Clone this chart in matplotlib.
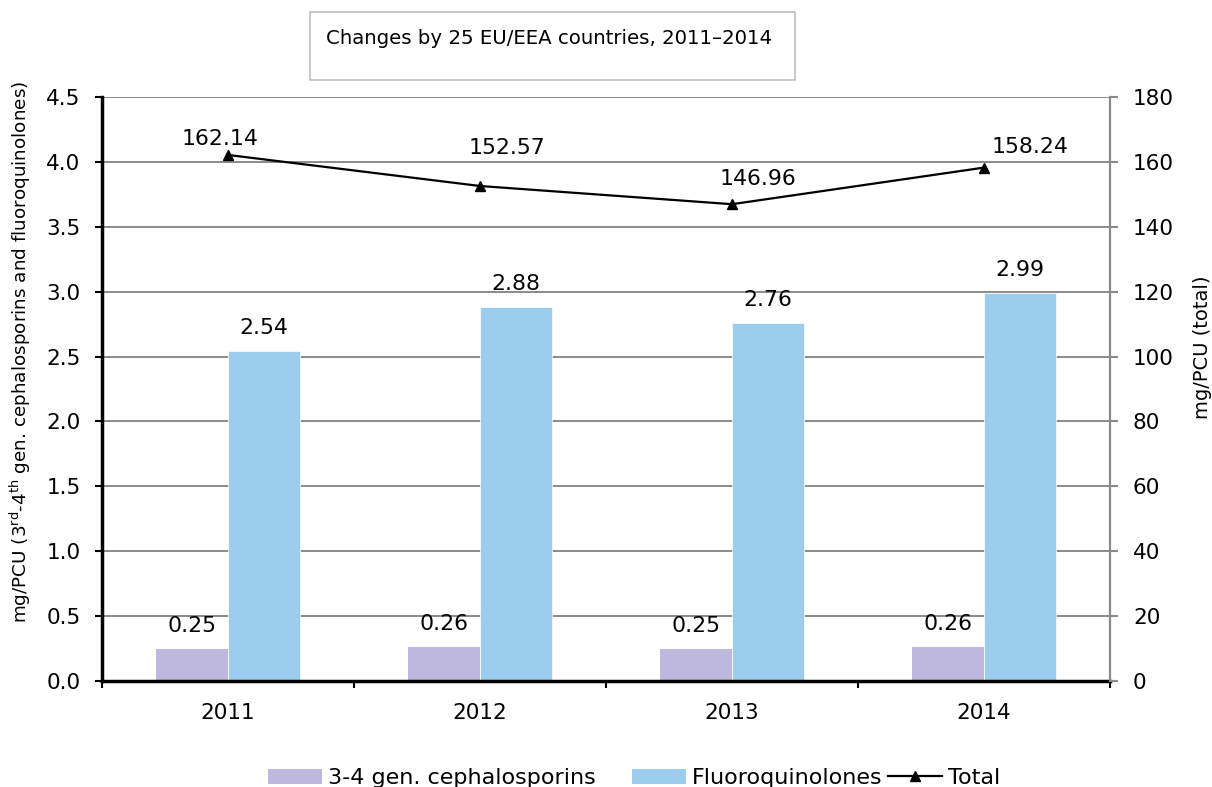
import numpy as np
import matplotlib
matplotlib.use("Agg")
import matplotlib.pyplot as plt
from matplotlib.patches import Rectangle, Patch
from matplotlib.lines import Line2D

# data
years = ['2011', '2012', '2013', '2014']
cephalosporins = [0.25, 0.26, 0.25, 0.26]
fluoroquinolones = [2.54, 2.88, 2.76, 2.99]
total = [162.14, 152.57, 146.96, 158.24]

# label offsets for the total line (pixels, as placed in the original)
total_label_offsets = [(-8, -16), (27, -38), (26, -25), (46, -21)]

purple = '#BFB8DE'
blue = '#9DCDEE'
grid_grey = '#8a8a8a'

W, H = 1212, 787
fig = plt.figure(figsize=(W / 100, H / 100), dpi=100)
ax = fig.add_axes([102 / W, 106 / H, 1008 / W, 584 / H])
ax2 = ax.twinx()

x = np.arange(len(years))
w = 0.285
ax.bar(x - w / 2, cephalosporins, w, color=purple, zorder=2)
ax.bar(x + w / 2, fluoroquinolones, w, color=blue, edgecolor='white', linewidth=0.5, zorder=2)

px = 0.72  # points per pixel
for xi, v in zip(x - w / 2, cephalosporins):
    ax.annotate(f'{v:.2f}', (xi, v), xytext=(0, 23 * px), textcoords='offset points',
                ha='center', va='center', fontsize=15.8)
for xi, v in zip(x + w / 2, fluoroquinolones):
    ax.annotate(f'{v:.2f}', (xi, v), xytext=(0, 23 * px), textcoords='offset points',
                ha='center', va='center', fontsize=15.8)

ax2.plot(x, total, color='black', lw=1.6, marker='^', ms=7, zorder=3)
for xi, v, (dx, dy) in zip(x, total, total_label_offsets):
    ax2.annotate(f'{v:.2f}', (xi, v), xytext=(dx * px, -dy * px), textcoords='offset points',
                 ha='center', va='center', fontsize=15.8)

# left axis
ax.set_xlim(-0.5, 3.5)
ax.set_ylim(0, 4.5)
ax.set_yticks(np.arange(0, 4.51, 0.5))
ax.set_yticklabels([f'{t:.1f}' for t in np.arange(0, 4.51, 0.5)])
ax.yaxis.grid(True, color=grid_grey, lw=1.4)
ax.set_axisbelow(True)
ax.tick_params(axis='y', length=5, width=1.5, color='black', labelsize=15.5, pad=10.5)
ax.set_xticks(x)
ax.set_xticklabels(years)
ax.set_xticks([-0.5, 0.5, 1.5, 2.5, 3.5], minor=True)
ax.tick_params(axis='x', which='major', length=0, labelsize=15.5, pad=15.5)
ax.tick_params(axis='x', which='minor', length=5, width=1.5, color='black')
ax.spines['top'].set_visible(False)
ax.spines['right'].set_visible(False)
ax.spines['left'].set_linewidth(2.5)
ax.spines['bottom'].set_linewidth(2.5)

# right axis
ax2.set_ylim(0, 180)
ax2.set_yticks(np.arange(0, 181, 20))
ax2.tick_params(axis='y', length=6, width=1.5, color=grid_grey, labelsize=15.5, pad=10.5)
for s in ['top', 'left', 'bottom']:
    ax2.spines[s].set_visible(False)
ax2.spines['right'].set_color(grid_grey)
ax2.spines['right'].set_linewidth(1.6)

# axis titles
fig.text(20 / W, 1 - 352 / H,
         r'mg/PCU (3$^{\mathrm{rd}}$-4$^{\mathrm{th}}$ gen. cephalosporins and fluoroquinolones)',
         rotation=90, ha='center', va='center', fontsize=13.2)
fig.text(1202 / W, 1 - 347 / H, 'mg/PCU (total)', rotation=90, ha='center', va='center', fontsize=14)

# boxed title
fig.patches.append(Rectangle((310 / W, 1 - 80 / H), 485 / W, 68 / H, transform=fig.transFigure,
                             facecolor='white', edgecolor='#bfbfbf', lw=1.2))
fig.text(549 / W, 1 - 38 / H, 'Changes by 25 EU/EEA countries, 2011\u20132014',
         ha='center', va='center', fontsize=14.2)

# legend, three entries placed like the original
entries = [
    (Patch(facecolor=purple), '3-4 gen. cephalosporins', 268),
    (Patch(facecolor=blue), 'Fluoroquinolones', 632),
    (Line2D([], [], color='black', lw=1.6, marker='^', ms=7), 'Total', 888),
]
for handle, text, left in entries:
    leg = fig.legend([handle], [text], loc='center left', bbox_to_anchor=(left / W, 1 - 778 / H),
                     frameon=False, fontsize=16, borderpad=0, borderaxespad=0,
                     handlelength=2.45, handleheight=0.65, handletextpad=0.25)

fig.savefig('out.png', dpi=100)
